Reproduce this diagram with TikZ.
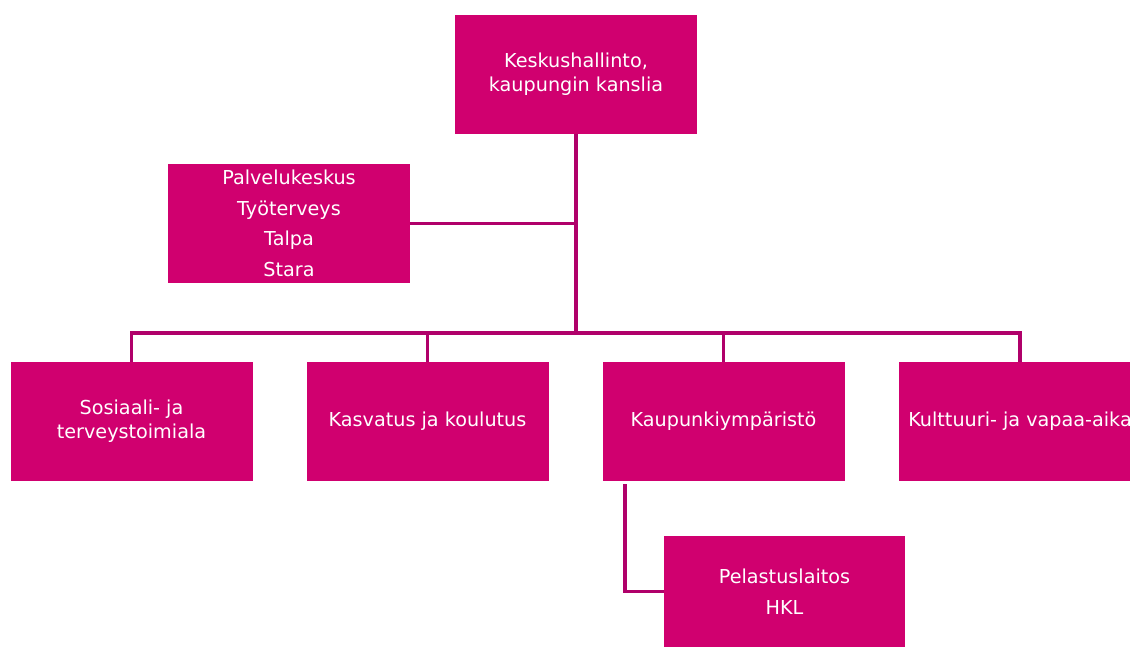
\documentclass[tikz,border=0pt]{standalone}
\usepackage{fontspec}
\setmainfont{DejaVu Sans}
\begin{document}
\definecolor{boxfill}{HTML}{D0006F}
\definecolor{linkline}{HTML}{B0006A}
\begin{tikzpicture}[x=0.75pt,y=-0.75pt,
  unit/.style={rectangle, fill=boxfill, text=white, inner sep=0pt,
    minimum width=181.5pt, minimum height=89.25pt, align=center,
    font=\fontsize{14.4}{18}\selectfont},
  wide/.style={font=\fontsize{14.4}{23}\selectfont},
  link/.style={draw=linkline, line width=2.3pt}]
\useasboundingbox (0,0) rectangle (1130,648);
\clip (0,0) rectangle (1130,648);

% central administration
\node[unit] (top) at (576,74.5) {Keskushallinto,\\kaupungin kanslia};
% services attached to the centre
\node[unit, wide] (side) at (289,223.5) {Palvelukeskus\\Työterveys\\Talpa\\Stara};

% divisions
\node[unit] (b1) at (131.5,421.5) {Sosiaali- ja\\terveystoimiala};
\node[unit] (b2) at (427.5,421.5) {Kasvatus ja koulutus};
\node[unit] (b3) at (723.5,421.5) {Kaupunkiympäristö};
\node[unit] (b4) at (1020,421.5) {Kulttuuri- ja vapaa-aika};

% units under the urban environment division
\node[unit, wide, minimum width=180.75pt, minimum height=83.25pt] (sub) at (784.5,591.5) {Pelastuslaitos\\HKL};

\coordinate (j) at (576,333);
\coordinate (k) at (625,484);

\draw[link] (top.south) -- (j);
\draw[link] (side.east) -- (side.east -| top.south);
\draw[link] (j) -| (b1.north);
\draw[link] (j) -| (b2.north);
\draw[link] (j) -| (b3.north);
\draw[link] (j) -| (b4.north);
\draw[link] (k) |- (sub.west);
\end{tikzpicture}
\end{document}
